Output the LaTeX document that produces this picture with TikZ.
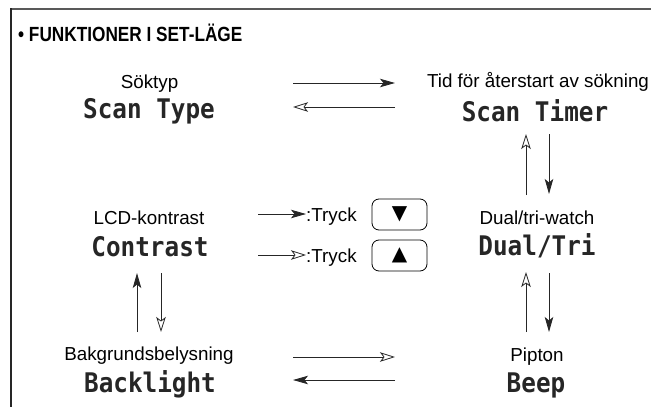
\documentclass[tikz,border=0pt]{standalone}
\usepackage{graphicx}
\usepackage{fontspec}
\setmainfont{Liberation Sans}
\newfontfamily\lcdfont{DejaVu Sans Mono}
\newfontfamily\symfont{DejaVu Sans}
\usetikzlibrary{arrows.meta}
\newcommand{\lcdtxt}[1]{\scalebox{0.9}[1]{#1}}
\begin{document}
\begin{tikzpicture}[x=1pt,y=-1pt,
  lbl/.style={font=\fontsize{18.8}{21}\selectfont, inner sep=0pt, anchor=base},
  lcd/.style={font=\lcdfont\bfseries\fontsize{27}{29}\selectfont, inner sep=0pt, anchor=base, text=black!85},
  arr/.style={line width=0.8pt, draw=black!85},
  fa/.style={arr,-{Stealth[length=15pt,width=8.5pt,inset=3.5pt]}},
  oa/.style={arr,-{Stealth[open,length=15pt,width=9.5pt,inset=3.5pt,fill=white]}},
  keybox/.style={draw, rounded corners=7pt, minimum width=55pt, minimum height=31pt, line width=0.8pt, inner sep=0pt, font=\symfont\fontsize{20}{22}\selectfont}]
\useasboundingbox (0,0) rectangle (651,407);
% frame
\draw[black!65, line width=2pt] (10,8.5) -- (651,8.5);
\draw[black!85, line width=1.2pt] (11,8) -- (11,407);
% title
\node[anchor=base west, inner sep=0pt, font=\bfseries\fontsize{20.5}{23}\selectfont] (title) at (18,41) {\scalebox{0.84}[1]{• FUNKTIONER I SET-LÄGE}};
% function nodes
\node[lbl] (l1) at (149.5,88) {Söktyp};
\node[lcd] (scantype) at (149,118) {\lcdtxt{Scan Type}};
\node[lbl] (l2) at (538,87) {Tid för återstart av sökning};
\node[lcd] (scantimer) at (535,121) {\lcdtxt{Scan Timer}};
\node[lbl] (l3) at (149,224) {LCD-kontrast};
\node[lcd] (contrast) at (150,256) {\lcdtxt{Contrast}};
\node[lbl] (l4) at (537,224) {Dual/tri-watch};
\node[lcd] (dualtri) at (537,255) {\lcdtxt{Dual/Tri}};
\node[lbl] (l5) at (149,360) {Bakgrundsbelysning};
\node[lcd] (backlight) at (150,392) {\lcdtxt{Backlight}};
\node[lbl] (l6) at (537,361) {Pipton};
\node[lcd] (beep) at (536,392) {\lcdtxt{Beep}};
% legend
\node[lbl, anchor=base west] (t1) at (306,221) {:Tryck};
\node[lbl, anchor=base west] (t2) at (306,262) {:Tryck};
\node[keybox] (kdown) at (399.5,214.5) {▼};
\node[keybox] (kup) at (399.5,255.5) {▲};
\coordinate (lg1) at (258,214);
\coordinate (lg2) at (258,255);
\draw[fa] (lg1) -- (t1.west |- lg1);
\draw[oa] (lg2) -- (t2.west |- lg2);
% arrow end points
\coordinate (h1a) at (293,83);   \coordinate (h1b) at (395,83);
\coordinate (h2a) at (395,107);  \coordinate (h2b) at (293,107);
\coordinate (h3a) at (293,357);  \coordinate (h3b) at (395,357);
\coordinate (h4a) at (395,380);  \coordinate (h4b) at (293,380);
\coordinate (v1a) at (526,195);  \coordinate (v1b) at (526,134);
\coordinate (v2a) at (549,134);  \coordinate (v2b) at (549,194);
\coordinate (v3a) at (526,332);  \coordinate (v3b) at (526,272);
\coordinate (v4a) at (549,273);  \coordinate (v4b) at (549,332);
\coordinate (v5a) at (137,332);  \coordinate (v5b) at (137,273);
\coordinate (v6a) at (161,273);  \coordinate (v6b) at (161,332);
% connectors
\draw[fa] (h1a) -- (h1b);
\draw[oa] (h2a) -- (h2b);
\draw[oa] (h3a) -- (h3b);
\draw[fa] (h4a) -- (h4b);
\draw[oa] (v1a) -- (v1b);
\draw[fa] (v2a) -- (v2b);
\draw[oa] (v3a) -- (v3b);
\draw[fa] (v4a) -- (v4b);
\draw[fa] (v5a) -- (v5b);
\draw[oa] (v6a) -- (v6b);
\end{tikzpicture}
\end{document}
